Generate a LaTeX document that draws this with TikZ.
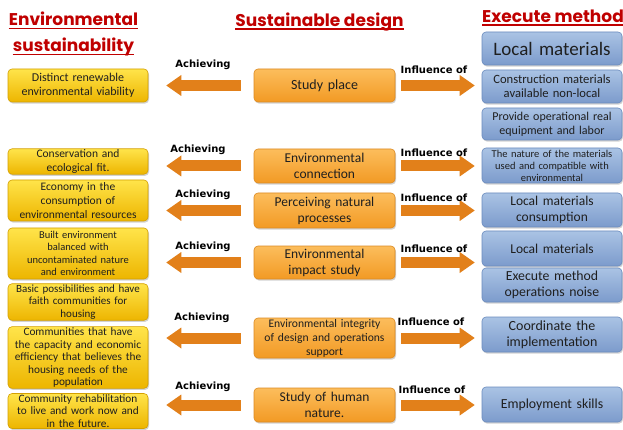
\documentclass[tikz,border=0pt]{standalone}
\usepackage{fontspec}
\setmainfont{Carlito}
\newfontfamily\headfont{Poppins}
\newfontfamily\tagfont{DejaVu Sans}
\usetikzlibrary{shadows,arrows.meta}

\definecolor{headred}{HTML}{C00000}
\definecolor{yelT}{HTML}{FFE44A}
\definecolor{yelB}{HTML}{EDB500}
\definecolor{yelD}{HTML}{D4A000}
\definecolor{orT}{HTML}{FCBD5C}
\definecolor{orB}{HTML}{F29A24}
\definecolor{orD}{HTML}{DC8A22}
\definecolor{blT}{HTML}{AAC3E4}
\definecolor{blB}{HTML}{7C9BCC}
\definecolor{blD}{HTML}{6A8BBE}
\definecolor{arrc}{HTML}{E2801A}

\tikzset{
  box/.style={rounded corners=4pt, line width=0.6pt, align=center, inner sep=1pt,
    text=black!88,
    drop shadow={opacity=0.35, shadow xshift=1pt, shadow yshift=-1.6pt}},
  ybox/.style={box, draw=yelD, top color=yelT, bottom color=yelB},
  obox/.style={box, draw=orD, top color=orT, bottom color=orB},
  bbox/.style={box, draw=blD, top color=blT, bottom color=blB},
  head/.style={font=\headfont\bfseries\fontsize{17}{19}\selectfont, text=headred, inner sep=0pt},
  uline/.style={draw=headred, line width=1.3pt},
  tag/.style={font=\tagfont\bfseries\fontsize{10}{12}\selectfont, inner sep=0pt},
  larrow/.style={draw=arrc, line width=11pt, line cap=butt,
    -{Triangle[width=21pt,length=15pt,line width=0pt]},
    shorten <=13pt, shorten >=18pt},
  rarrow/.style={draw=arrc, line width=11pt, line cap=butt,
    -{Triangle[width=21pt,length=15pt,line width=0pt]},
    shorten <=6pt, shorten >=7pt},
}

% box: style, name, x1, y1, x2, y2, font size, line skip, text
\newcommand\bx[9]{%
  \pgfmathsetmacro\bxw{#5-#3}%
  \pgfmathsetmacro\bxh{#6-#4}%
  \pgfmathsetmacro\bxt{#5-#3-4}%
  \node[#1, minimum width=\bxw pt, minimum height=\bxh pt, text width=\bxt pt,
        font=\fontsize{#7}{#8}\selectfont] (#2) at ({(#3+#5)/2},{(#4+#6)/2}) {#9};}

\begin{document}
\begin{tikzpicture}[x=1pt, y=-1pt]
\useasboundingbox[fill=white] (0,0) rectangle (623,430);

% column headings
\node[head, anchor=base] (h1) at (73.5,26) {Environmental};
\node[head, anchor=base] (h2) at (73.5,52) {sustainability};
\node[head, anchor=base] (h3) at (319.5,26.5) {Sustainable design};
\node[head, anchor=base] (h4) at (553,22.5) {Execute method};
\foreach \h in {h1,h2,h3,h4}{
  \draw[uline] ([yshift=-2.5pt]\h.base west) -- ([yshift=-2.5pt]\h.base east);
}

% environmental sustainability
\bx{ybox}{y1}{8}{69}{148}{102}{12}{14}{Distinct renewable\\environmental viability}
\bx{ybox}{y2}{8}{149}{148}{174}{11.5}{13.5}{Conservation and\\ecological fit.}
\bx{ybox}{y3}{8}{180}{148}{221}{11.5}{14}{Economy in the\\consumption of\\environmental resources}
\bx{ybox}{y4}{8}{228}{148}{279}{10.5}{12.5}{Built environment\\balanced with\\uncontaminated nature\\and environment}
\bx{ybox}{y5}{8}{285}{148}{319}{11}{12.5}{Basic possibilities and have\\faith communities for\\housing}
\bx{ybox}{y6}{8}{327}{148}{388}{11.3}{12.5}{Communities that have\\the capacity and economic\\efficiency that believes the\\housing needs of the\\population}
\bx{ybox}{y7}{8}{394}{148}{428}{11.3}{12.5}{Community rehabilitation\\to live and work now and\\in the future.}

% sustainable design
\bx{obox}{m1}{254}{69}{395}{102}{14}{16}{Study place}
\bx{obox}{m2}{254}{149}{395}{183}{13.5}{16}{Environmental\\connection}
\bx{obox}{m3}{254}{193}{395}{228}{13.5}{16}{Perceiving natural\\processes}
\bx{obox}{m4}{254}{246}{395}{279}{13.5}{16}{Environmental\\impact study}
\bx{obox}{m5}{254}{318}{395}{358}{11.6}{14}{Environmental integrity\\of design and operations\\support}
\bx{obox}{m6}{254}{388}{395}{422}{13.5}{16}{Study of human\\nature.}

% execute method
\bx{bbox}{b1}{482}{32}{622}{65}{19}{22}{Local materials}
\bx{bbox}{b2}{482}{70}{622}{103}{12.6}{14}{Construction materials\\available non-local}
\bx{bbox}{b3}{482}{108}{622}{140}{12}{14}{Provide operational real\\equipment and labor}
\bx{bbox}{b4}{482}{148}{622}{183}{10.5}{12}{The nature of the materials\\used and compatible with\\environmental}
\bx{bbox}{b5}{482}{193}{622}{227}{13.5}{16}{Local materials\\consumption}
\bx{bbox}{b6}{482}{231}{622}{266}{13.5}{16}{Local materials}
\bx{bbox}{b7}{482}{268}{622}{302}{13.8}{15.5}{Execute method\\operations noise}
\bx{bbox}{b8}{482}{317}{622}{352}{14}{16}{Coordinate the\\implementation}
\bx{bbox}{b9}{482}{387}{622}{422}{13.8}{16}{Employment skills}

% block arrows
\foreach \m/\y/\b in {m1/y1/b2, m2/y2/b4, m3/y3/b5, m4/y4/b6, m5/y6/b8, m6/y7/b9}{
  \draw[larrow] (\m.west) -- (\m.west -| \y.east);
  \draw[rarrow] (\m.east) -- (\m.east -| \b.west);
}

% arrow labels
\node[tag] (a1) at (203,65) {Achieving};
\node[tag] (a2) at (198,150) {Achieving};
\node[tag] (a3) at (203,195) {Achieving};
\node[tag] (a4) at (203,247) {Achieving};
\node[tag] (a5) at (202,318) {Achieving};
\node[tag] (a6) at (203,387) {Achieving};
\node[tag] (i1) at (434,70) {Influence of};
\node[tag] (i2) at (434,153) {Influence of};
\node[tag] (i3) at (434,198) {Influence of};
\node[tag] (i4) at (434,249) {Influence of};
\node[tag] (i5) at (431,322) {Influence of};
\node[tag] (i6) at (432,390) {Influence of};
\end{tikzpicture}
\end{document}
